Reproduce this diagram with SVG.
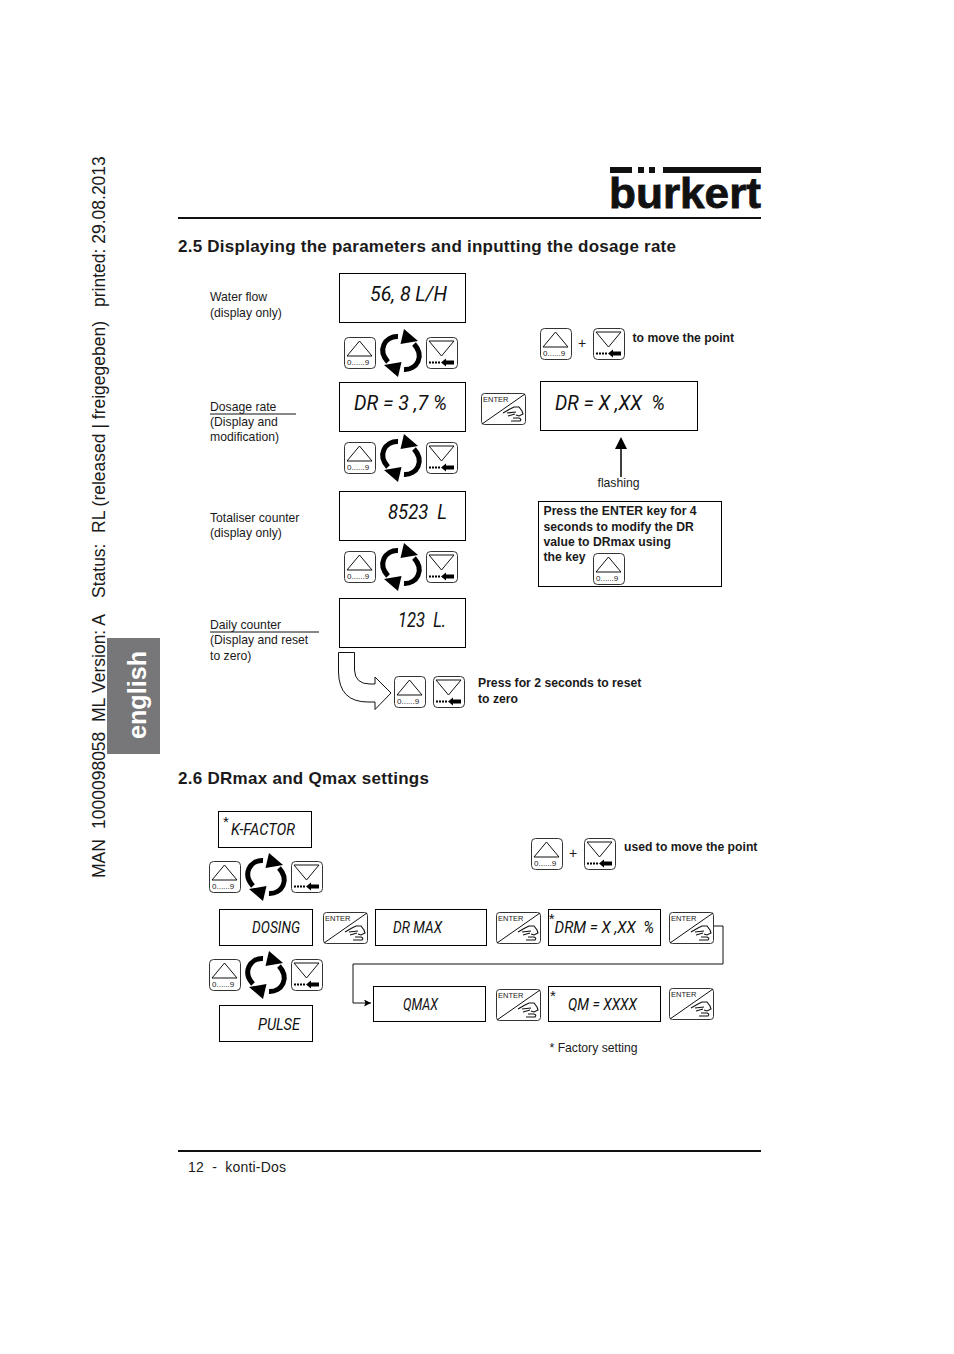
<svg xmlns="http://www.w3.org/2000/svg" width="954" height="1354" viewBox="0 0 954 1354">
<style>
text{font-family:"Liberation Sans",Arial,sans-serif;fill:#1a1a1a}
.lbl{font-size:12.2px}
.bld{font-size:12.2px;font-weight:bold}
.h{font-size:17px;font-weight:bold}
.lcd{font-family:Roboto,"Liberation Sans",sans-serif;font-style:italic;font-weight:400;font-size:21px;white-space:pre;fill:#111}
.lcds{font-size:17px}
.box{fill:#fff;stroke:#000;stroke-width:1}
.key{fill:#fff;stroke:#333;stroke-width:1}
.thin{fill:none;stroke:#111;stroke-width:1}
.ast{font-size:15px;fill:#111}
.tiny{font-size:8px}
.ent{font-size:7.500px}
.cyc{fill:none;stroke:#000;stroke-width:5}
</style>
<defs>
<marker id="ah" markerWidth="8" markerHeight="8" refX="7" refY="3.500" orient="auto" markerUnits="userSpaceOnUse"><path d="M0,0 L7,3.500 L0,7 L1.500,3.500 Z" fill="#000"/></marker>
<g id="up"><rect class="key" x="0.500" y="0.500" width="31" height="31" rx="4"/><path class="thin" d="M3,19 L15.500,4 L28,19 Z"/><text class="tiny" x="3" y="28">0......9</text></g>
<g id="down"><rect class="key" x="0.500" y="0.500" width="31" height="31" rx="4"/><path class="thin" d="M3,4 L15.500,19 L28,4 Z"/><path d="M3,24.500 h2 v2 h-2 z M6,24.500 h2 v2 h-2 z M9,24.500 h2 v2 h-2 z M12,24.500 h2 v2 h-2 z" fill="#000"/><path d="M15,25.500 L20,21.500 V23.500 H28 V27.500 H20 V29.500 Z" fill="#000"/></g>
<g id="cycle"><path class="cyc" d="M-3,-16.500 C-16,-17 -24,-3 -13,9"/><path d="M-3,24 L0.500,9 L-17,12 Z" fill="#000"/><path class="cyc" d="M3,16.500 C16,17 24,3 13,-9"/><path d="M3,-24 L-0.500,-9 L17,-12 Z" fill="#000"/></g>
<g id="enter"><rect class="key" x="0.500" y="0.500" width="44" height="31" rx="3"/><path class="thin" d="M1,31 L44,1"/><text class="ent" x="2" y="9">ENTER</text><path d="M22,20 L29,16 L33,14 L38,14 L41,18 L42,21 L38,23 L35,22 M26,20 L35,19 M27,23 L34,21 M32,25 L38,25 Q41,26 39,28 L30,28" fill="none" stroke="#111" stroke-width="1.100"/></g>
</defs>

<g id="sidebar"><rect x="107" y="638" width="53" height="116" fill="#77777a"/>
<text transform="translate(146,739) rotate(-90)" font-size="26" font-weight="bold" style="fill:#fff" textLength="88" lengthAdjust="spacingAndGlyphs">english</text></g>
<text id="sidetext" transform="translate(105,880) rotate(-90)" font-size="17.500">
<tspan x="2">MAN</tspan><tspan x="51">1000098058</tspan><tspan x="158">ML</tspan><tspan x="187">Version: A</tspan><tspan x="282">Status:</tspan><tspan x="347">RL (released | freigegeben)</tspan><tspan x="573">printed: 29.08.2013</tspan></text>

<g id="logo"><rect x="610" y="167" width="22" height="6" fill="#111"/><rect x="638" y="167" width="6" height="6" fill="#111"/><rect x="649" y="167" width="6" height="6" fill="#111"/><rect x="663" y="167" width="98" height="6" fill="#111"/>
<text x="609" y="208" font-size="43" font-weight="bold" textLength="152" lengthAdjust="spacingAndGlyphs" style="fill:#111;stroke:#111;stroke-width:0.800">bürkert</text>
<rect x="635" y="173.500" width="23" height="11" fill="#fff"/></g>
<rect x="178" y="217" width="583" height="2" fill="#111"/>
<rect x="178" y="1150" width="583" height="2" fill="#111"/>
<text x="188" y="1172" font-size="14" xml:space="preserve" textLength="98">12  -  konti-Dos</text>
<text class="h" x="178" y="252" textLength="498">2.5 Displaying the parameters and inputting the dosage rate</text>
<text class="h" x="178" y="784" textLength="251">2.6 DRmax and Qmax settings</text>

<g id="labels">
<text class="lbl" x="210" y="301">Water flow</text><text class="lbl" x="210" y="317">(display only)</text>
<text class="lbl" x="210" y="411">Dosage rate</text><text class="lbl" x="210" y="426">(Display and</text><text class="lbl" x="210" y="441">modification)</text>
<text class="lbl" x="210" y="522">Totaliser counter</text><text class="lbl" x="210" y="537">(display only)</text>
<text class="lbl" x="210" y="629">Daily counter</text><text class="lbl" x="210" y="644">(Display and reset</text><text class="lbl" x="210" y="660">to zero)</text>
<text class="bld" x="632.500" y="342">to move the point</text>
<text class="lbl" x="597.500" y="487">flashing</text>
<text class="bld" x="478" y="687">Press for 2 seconds to reset</text><text class="bld" x="478" y="703">to zero</text>
<text class="bld" x="624" y="851">used to move the point</text>
<text class="lbl" x="549.500" y="1052">* Factory setting</text>
<text x="578" y="348" font-size="14">+</text><text x="569" y="858" font-size="14">+</text>
</g>

<g id="connectors">
<path class="thin" d="M210,414 H296 M210,632 H319"/>
<path fill="none" stroke="#000" stroke-width="1.500" d="M621,477 V442"/>
<path d="M615,449 L621,437 L627,449 Z" fill="#000"/>
<path class="thin" d="M714,926 H723 V964 H353 V1003 H371" marker-end="url(#ah)"/>
<path fill="#fff" stroke="#111" stroke-width="1" d="M338.500,652.500 H354.500 V670 Q355,684 370,684 H375 V677 L391,693 L375,709.500 V702 H368 Q339,702 338.500,672 Z"/>
</g>

<g id="d1"><rect class="box" x="339.500" y="273.500" width="126" height="49"/><text class="lcd" x="370" y="301" textLength="77" lengthAdjust="spacingAndGlyphs" xml:space="preserve">56, 8 L/H</text></g>
<g id="d2"><rect class="box" x="339.500" y="382.500" width="126" height="49"/><text class="lcd" x="354" y="410" textLength="93" lengthAdjust="spacingAndGlyphs" xml:space="preserve">DR = 3 ,7 %</text></g>
<g id="d2b"><rect class="box" x="540.500" y="381.500" width="157" height="49"/><text class="lcd" x="555" y="410" textLength="110" lengthAdjust="spacingAndGlyphs" xml:space="preserve">DR = X ,XX  %</text></g>
<g id="d3"><rect class="box" x="339.500" y="491.500" width="126" height="49"/><text class="lcd" x="388" y="519" textLength="59" lengthAdjust="spacingAndGlyphs" xml:space="preserve">8523  L</text></g>
<g id="d4"><rect class="box" x="339.500" y="598.500" width="126" height="49"/><text class="lcd" x="398" y="627" textLength="48" lengthAdjust="spacingAndGlyphs" xml:space="preserve">123  L.</text></g>
<g id="note"><rect class="box" x="538.500" y="501.500" width="183" height="85"/>
<text class="bld" x="543.500" y="515">Press the ENTER key for 4</text><text class="bld" x="543.500" y="531">seconds to modify the DR</text><text class="bld" x="543.500" y="546">value to DRmax using</text><text class="bld" x="543.500" y="561">the key</text>
<use href="#up" x="593" y="553"/></g>

<g id="keys25">
<use href="#up" x="344" y="337"/><use href="#down" x="426" y="337"/><use href="#cycle" x="401" y="353"/>
<use href="#up" x="344" y="442"/><use href="#down" x="426" y="442"/><use href="#cycle" x="401" y="458"/>
<use href="#up" x="344" y="551"/><use href="#down" x="426" y="551"/><use href="#cycle" x="401" y="567"/>
<use href="#up" x="394" y="676"/><use href="#down" x="433" y="676"/>
<use href="#up" x="540" y="328"/><use href="#down" x="593" y="328"/>
<use href="#enter" x="481" y="393"/>
</g>

<g id="k"><rect class="box" x="218.500" y="811.500" width="93" height="36"/><text class="ast" x="223" y="827">*</text><text class="lcd lcds" x="231" y="835" textLength="64" lengthAdjust="spacingAndGlyphs">K-FACTOR</text></g>
<g id="dosing"><rect class="box" x="219.500" y="909.500" width="93" height="36"/><text class="lcd lcds" x="252" y="933" textLength="48" lengthAdjust="spacingAndGlyphs">DOSING</text></g>
<g id="drmax"><rect class="box" x="375.500" y="909.500" width="111" height="36"/><text class="lcd lcds" x="393" y="933" textLength="49" lengthAdjust="spacingAndGlyphs">DR MAX</text></g>
<g id="drm"><rect class="box" x="548.500" y="909.500" width="112" height="36"/><text class="ast" x="548.700" y="924">*</text><text class="lcd lcds" x="554.500" y="933" textLength="99.500" lengthAdjust="spacingAndGlyphs" xml:space="preserve">DRM = X ,XX  %</text></g>
<g id="qmax"><rect class="box" x="373.500" y="986.500" width="112" height="35"/><text class="lcd lcds" x="403" y="1010" textLength="35" lengthAdjust="spacingAndGlyphs">QMAX</text></g>
<g id="qm"><rect class="box" x="548.500" y="986.500" width="112" height="35"/><text class="ast" x="550" y="1001">*</text><text class="lcd lcds" x="568" y="1010" textLength="69" lengthAdjust="spacingAndGlyphs">QM = XXXX</text></g>
<g id="pulse"><rect class="box" x="219.500" y="1005.500" width="93" height="36"/><text class="lcd lcds" x="258" y="1030" textLength="42" lengthAdjust="spacingAndGlyphs">PULSE</text></g>

<g id="keys26">
<use href="#up" x="209" y="861"/><use href="#down" x="291" y="861"/><use href="#cycle" x="266" y="877"/>
<use href="#up" x="209" y="959"/><use href="#down" x="291" y="959"/><use href="#cycle" x="266" y="975"/>
<use href="#up" x="531" y="838"/><use href="#down" x="584" y="838"/>
<use href="#enter" x="323" y="912"/><use href="#enter" x="496" y="912"/><use href="#enter" x="669" y="912"/>
<use href="#enter" x="496" y="989"/><use href="#enter" x="669" y="988"/>
</g>
</svg>
